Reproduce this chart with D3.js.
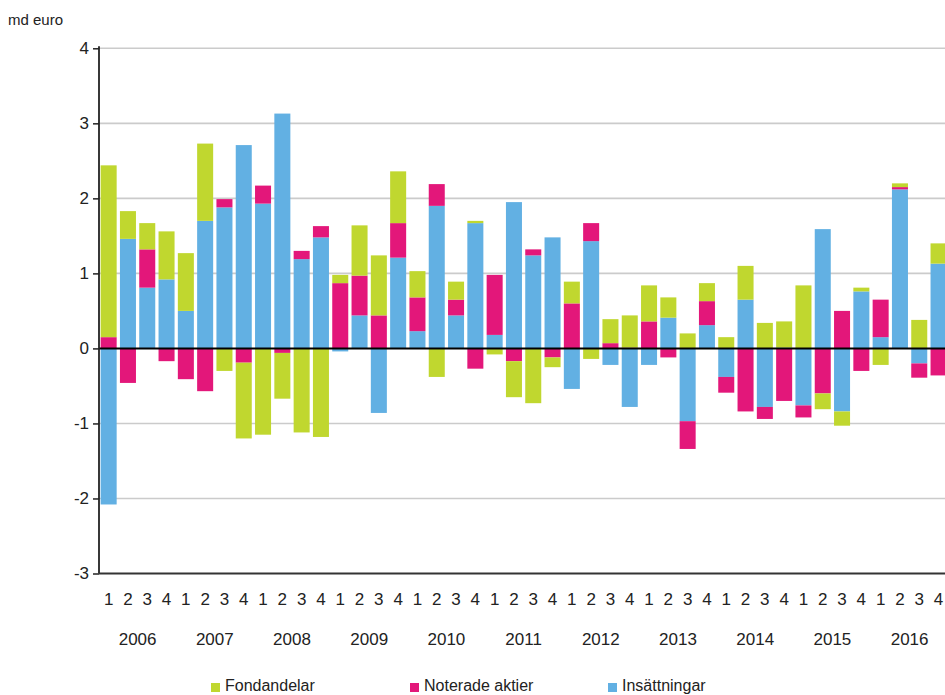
<!DOCTYPE html>
<html>
<head>
<meta charset="utf-8">
<script src="https://cdn.jsdelivr.net/npm/d3@7"></script>
<style>
  body { margin: 0; background: #fff; }
  svg { display: block; font-family: "Liberation Sans", Arial, sans-serif; }
</style>
</head>
<body>
<svg id="chart" width="945" height="695"></svg>
<script>
  'use strict'

  // kvartal 2006Q1 - 2016Q4
  var years = ['2006', '2007', '2008', '2009', '2010', '2011', '2012', '2013', '2014', '2015', '2016']
  var quarters = ['1', '2', '3', '4']

  // md euro
  var insattningar = [-2.08, 1.46, 0.81, 0.92, 0.50, 1.70, 1.88, 2.71, 1.93, 3.13, 1.19, 1.48,
    -0.04, 0.44, -0.86, 1.21, 0.23, 1.90, 0.44, 1.67, 0.18, 1.95, 1.24, 1.48,
    -0.54, 1.43, -0.22, -0.78, -0.22, 0.41, -0.97, 0.31, -0.38, 0.65, -0.78, 0.01,
    -0.76, 1.59, -0.84, 0.76, 0.15, 2.12, -0.20, 1.13]
  var noteradeAktier = [0.15, -0.46, 0.51, -0.17, -0.41, -0.57, 0.11, -0.19, 0.24, -0.06, 0.11, 0.15,
    0.87, 0.53, 0.44, 0.46, 0.45, 0.29, 0.21, -0.27, 0.80, -0.17, 0.08, -0.12,
    0.60, 0.24, 0.07, 0.01, 0.36, -0.12, -0.37, 0.32, -0.21, -0.84, -0.16, -0.70,
    -0.16, -0.60, 0.50, -0.30, 0.50, 0.03, -0.19, -0.36]
  var fondandelar = [2.29, 0.37, 0.35, 0.64, 0.77, 1.03, -0.30, -1.01, -1.15, -0.61, -1.12, -1.18,
    0.11, 0.67, 0.80, 0.69, 0.35, -0.38, 0.24, 0.03, -0.08, -0.48, -0.73, -0.13,
    0.29, -0.14, 0.32, 0.43, 0.48, 0.27, 0.20, 0.24, 0.15, 0.45, 0.34, 0.35,
    0.84, -0.21, -0.19, 0.05, -0.22, 0.05, 0.38, 0.27]

  var yTicks = [-3, -2, -1, 0, 1, 2, 3, 4]

  var series = [
    { key: 'insattningar', name: 'Insättningar', color: '#62b0e3', values: insattningar },
    { key: 'noteradeAktier', name: 'Noterade aktier', color: '#e3177a', values: noteradeAktier },
    { key: 'fondandelar', name: 'Fondandelar', color: '#c0d72f', values: fondandelar }
  ]
  var legendOrder = ['fondandelar', 'noteradeAktier', 'insattningar']

  var rows = []
  years.forEach(function (y, yi) {
    quarters.forEach(function (q, qi) {
      var i = yi * 4 + qi
      var row = { id: y + 'Q' + q, year: y, q: q }
      series.forEach(function (s) { row[s.key] = s.values[i] })
      rows.push(row)
    })
  })

  var margin = { left: 99, top: 48.3, bottom: 573.5 }
  var plotRight = margin.left + rows.length * 19.3

  var svg = d3.select('#chart')

  var x = d3.scaleBand()
    .domain(rows.map(function (d) { return d.id }))
    .range([margin.left, plotRight])
    .paddingInner(0.17)
    .paddingOuter(0.085)

  var y = d3.scaleLinear()
    .domain([-3, 4])
    .range([margin.bottom, margin.top])

  // gridlines
  svg.append('g')
    .selectAll('line')
    .data(yTicks.filter(function (t) { return t !== 0 && t !== -3 }))
    .join('line')
    .attr('x1', margin.left)
    .attr('x2', 945)
    .attr('y1', function (d) { return y(d) })
    .attr('y2', function (d) { return y(d) })
    .style('stroke', '#cbcbcb')
    .style('stroke-width', 1.6)

  var stack = d3.stack()
    .keys(series.map(function (s) { return s.key }))
    .offset(d3.stackOffsetDiverging)
  var stacked = stack(rows)

  svg.append('g')
    .selectAll('g')
    .data(stacked)
    .join('g')
    .style('fill', function (d, i) { return series[i].color })
    .selectAll('rect')
    .data(function (d) { return d })
    .join('rect')
    .attr('x', function (d) { return x(d.data.id) })
    .attr('width', x.bandwidth())
    .attr('y', function (d) { return y(Math.max(d[0], d[1])) })
    .attr('height', function (d) { return Math.abs(y(d[0]) - y(d[1])) })

  // zero line
  svg.append('line')
    .attr('x1', margin.left)
    .attr('x2', 945)
    .attr('y1', y(0))
    .attr('y2', y(0))
    .style('stroke', '#000')
    .style('stroke-width', 2)

  // y axis
  var yAxis = d3.axisLeft(y)
    .tickValues(yTicks)
    .tickSize(6)
    .tickPadding(4)
    .tickFormat(function (d) { return String(d) })
  var yg = svg.append('g')
    .attr('transform', 'translate(' + margin.left + ',0)')
    .call(yAxis)
  yg.select('.domain').remove()
  yg.selectAll('line').style('stroke', '#222').style('stroke-width', 1.5)
  yg.selectAll('text')
    .style('font-size', '17px')
    .style('font-family', '"Liberation Sans", Arial, sans-serif')
    .style('fill', '#222')
  yg.append('line')
    .attr('y1', margin.top - 2)
    .attr('y2', margin.bottom)
    .style('stroke', '#222')
    .style('stroke-width', 1.8)

  // x axis
  svg.append('line')
    .attr('x1', margin.left)
    .attr('x2', 945)
    .attr('y1', margin.bottom)
    .attr('y2', margin.bottom)
    .style('stroke', '#333')
    .style('stroke-width', 1.8)

  svg.append('g')
    .selectAll('text')
    .data(rows)
    .join('text')
    .attr('x', function (d) { return x(d.id) + x.bandwidth() / 2 })
    .attr('y', 605)
    .attr('text-anchor', 'middle')
    .style('font-size', '17px')
    .style('fill', '#222')
    .text(function (d) { return d.q })

  svg.append('g')
    .selectAll('text')
    .data(years)
    .join('text')
    .attr('x', function (d) {
      return (x(d + 'Q2') + x(d + 'Q3') + x.bandwidth()) / 2
    })
    .attr('y', 645)
    .attr('text-anchor', 'middle')
    .style('font-size', '17px')
    .style('fill', '#222')
    .text(function (d) { return d })

  // unit label
  svg.append('text')
    .attr('x', 8)
    .attr('y', 25)
    .style('font-size', '15px')
    .style('fill', '#222')
    .text('md euro')

  // legend
  var legendX = [211, 410, 608]
  var legend = svg.append('g')
    .selectAll('g')
    .data(legendOrder.map(function (k) {
      return series.filter(function (s) { return s.key === k })[0]
    }))
    .join('g')
    .attr('transform', function (d, i) { return 'translate(' + legendX[i] + ',0)' })
  legend.append('rect')
    .attr('x', 0)
    .attr('y', 683)
    .attr('width', 9)
    .attr('height', 9)
    .style('fill', function (d) { return d.color })
  legend.append('text')
    .attr('x', 14)
    .attr('y', 691)
    .style('font-size', '16px')
    .style('fill', '#222')
    .text(function (d) { return d.name })
</script>
</body>
</html>
